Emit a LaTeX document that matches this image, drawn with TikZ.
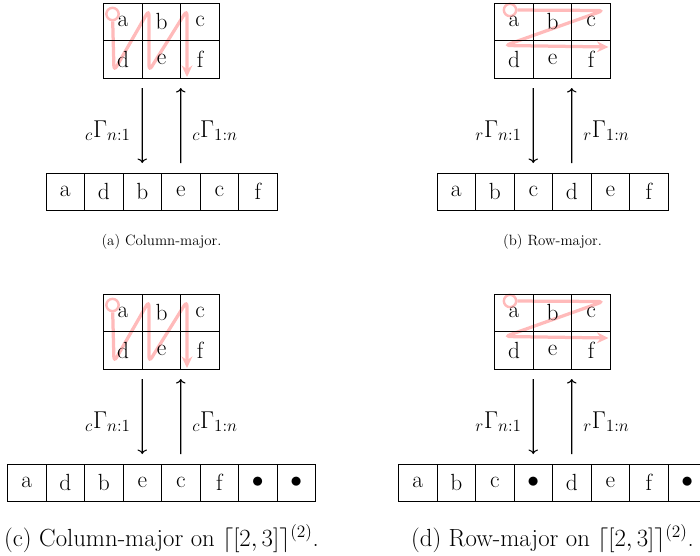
\RequirePackage{fix-cm}
\documentclass[tikz,border=0pt]{standalone}
\usetikzlibrary{arrows.meta,calc}
\begin{document}
\begin{tikzpicture}[x=0.025974cm,y=-0.025974cm,
  cell/.style={draw, line width=0.6pt, minimum width=1cm, minimum height=0.974cm, inner sep=0pt, outer sep=0pt, font=\fontsize{17.28}{20}\selectfont},
  pinktrace/.style={draw=red!27, line width=2.4pt, rounded corners=4pt, -{Stealth[length=3mm,width=2.8mm,inset=1mm]}},
  pinkring/.style={circle, draw=red!27, line width=1.8pt, minimum size=0.32cm, inner sep=0pt},
  maparrow/.style={->, line width=0.8pt},
  lbltext/.style={inner sep=0pt, font=\fontsize{18}{21}\selectfont},
  captext/.style={anchor=base, inner sep=0pt, font=\fontsize{11}{13}\selectfont},
  bigcaptext/.style={anchor=base, inner sep=0pt, font=\fontsize{18.3}{21}\selectfont}]
\useasboundingbox (0,0) rectangle (700,555);
\clip (0,0) rectangle (700,555);

% ---------- (a) column-major ----------
\begin{scope}[shift={(161.5,3)}]
  \node[pinkring] (aring) at (-49,11) {};
  \draw[pinktrace] (aring) -- (-47.5,68) -- (-12.5,7) -- (-12.5,68) -- (25.5,7) -- (25.5,74);
  \node[cell] (ag1) at (-38.5,18.75) {a};
  \node[cell] (ag2) at (0,18.75) {b};
  \node[cell] (ag3) at (38.5,18.75) {c};
  \node[cell] (ag4) at (-38.5,56.25) {d};
  \node[cell] (ag5) at (0,56.25) {e};
  \node[cell] (ag6) at (38.5,56.25) {f};
  \node[cell] (ar1) at (-96.25,188.75) {a};
  \node[cell] (ar2) at (-57.75,188.75) {d};
  \node[cell] (ar3) at (-19.25,188.75) {b};
  \node[cell] (ar4) at (19.25,188.75) {e};
  \node[cell] (ar5) at (57.75,188.75) {c};
  \node[cell] (ar6) at (96.25,188.75) {f};
  \draw[maparrow] ($(ag4.south east)+(0,10)$) -- ($(ar3.north)+(0,-10)$);
  \draw[maparrow] ($(ar4.north)+(0,-10)$) -- ($(ag5.south east)+(0,10)$);
  \node[lbltext, anchor=base east] (al1) at (-30.5,134) {${}_c\Gamma_{n:1}$};
  \node[lbltext, anchor=base west] (al2) at (30.5,134) {${}_c\Gamma_{1:n}$};
  \node[captext] (acap) at (0,242) {(a) Column-major.};
\end{scope}

% ---------- (b) row-major ----------
\begin{scope}[shift={(552.5,3)}]
  \node[pinkring] (bring) at (-42.5,7) {};
  \draw[pinktrace] (bring) -- (51,7.5) -- (-47.5,42.5) -- (56,44);
  \node[cell] (bg1) at (-38.5,18.75) {a};
  \node[cell] (bg2) at (0,18.75) {b};
  \node[cell] (bg3) at (38.5,18.75) {c};
  \node[cell] (bg4) at (-38.5,56.25) {d};
  \node[cell] (bg5) at (0,56.25) {e};
  \node[cell] (bg6) at (38.5,56.25) {f};
  \node[cell] (br1) at (-96.25,188.75) {a};
  \node[cell] (br2) at (-57.75,188.75) {b};
  \node[cell] (br3) at (-19.25,188.75) {c};
  \node[cell] (br4) at (19.25,188.75) {d};
  \node[cell] (br5) at (57.75,188.75) {e};
  \node[cell] (br6) at (96.25,188.75) {f};
  \draw[maparrow] ($(bg4.south east)+(0,10)$) -- ($(br3.north)+(0,-10)$);
  \draw[maparrow] ($(br4.north)+(0,-10)$) -- ($(bg5.south east)+(0,10)$);
  \node[lbltext, anchor=base east] (bl1) at (-30.5,134) {${}_r\Gamma_{n:1}$};
  \node[lbltext, anchor=base west] (bl2) at (30.5,134) {${}_r\Gamma_{1:n}$};
  \node[captext] (bcap) at (0,242) {(b) Row-major.};
\end{scope}

% ---------- (c) column-major on padded ----------
\begin{scope}[shift={(161.5,294)}]
  \node[pinkring] (cring) at (-49,11) {};
  \draw[pinktrace] (cring) -- (-47.5,68) -- (-12.5,7) -- (-12.5,68) -- (25.5,7) -- (25.5,74);
  \node[cell] (cg1) at (-38.5,18.75) {a};
  \node[cell] (cg2) at (0,18.75) {b};
  \node[cell] (cg3) at (38.5,18.75) {c};
  \node[cell] (cg4) at (-38.5,56.25) {d};
  \node[cell] (cg5) at (0,56.25) {e};
  \node[cell] (cg6) at (38.5,56.25) {f};
  \node[cell] (cr1) at (-134.75,188.75) {a};
  \node[cell] (cr2) at (-96.25,188.75) {d};
  \node[cell] (cr3) at (-57.75,188.75) {b};
  \node[cell] (cr4) at (-19.25,188.75) {e};
  \node[cell] (cr5) at (19.25,188.75) {c};
  \node[cell] (cr6) at (57.75,188.75) {f};
  \node[cell] (cr7) at (96.25,188.75) {$\bullet$};
  \node[cell] (cr8) at (134.75,188.75) {$\bullet$};
  \draw[maparrow] ($(cg4.south east)+(0,10)$) -- ($(cr4.north)+(0,-10)$);
  \draw[maparrow] ($(cr5.north)+(0,-10)$) -- ($(cg5.south east)+(0,10)$);
  \node[lbltext, anchor=base east] (cl1) at (-30.5,134) {${}_c\Gamma_{n:1}$};
  \node[lbltext, anchor=base west] (cl2) at (30.5,134) {${}_c\Gamma_{1:n}$};
  \node[bigcaptext] (ccap) at (0,252) {(c) Column-major on $\lceil[2,3]\rceil^{(2)}$.};
\end{scope}

% ---------- (d) row-major on padded ----------
\begin{scope}[shift={(552.5,294)}]
  \node[pinkring] (dring) at (-42.5,7) {};
  \draw[pinktrace] (dring) -- (51,7.5) -- (-47.5,42.5) -- (56,44);
  \node[cell] (dg1) at (-38.5,18.75) {a};
  \node[cell] (dg2) at (0,18.75) {b};
  \node[cell] (dg3) at (38.5,18.75) {c};
  \node[cell] (dg4) at (-38.5,56.25) {d};
  \node[cell] (dg5) at (0,56.25) {e};
  \node[cell] (dg6) at (38.5,56.25) {f};
  \node[cell] (dr1) at (-134.75,188.75) {a};
  \node[cell] (dr2) at (-96.25,188.75) {b};
  \node[cell] (dr3) at (-57.75,188.75) {c};
  \node[cell] (dr4) at (-19.25,188.75) {$\bullet$};
  \node[cell] (dr5) at (19.25,188.75) {d};
  \node[cell] (dr6) at (57.75,188.75) {e};
  \node[cell] (dr7) at (96.25,188.75) {f};
  \node[cell] (dr8) at (134.75,188.75) {$\bullet$};
  \draw[maparrow] ($(dg4.south east)+(0,10)$) -- ($(dr4.north)+(0,-10)$);
  \draw[maparrow] ($(dr5.north)+(0,-10)$) -- ($(dg5.south east)+(0,10)$);
  \node[lbltext, anchor=base east] (dl1) at (-30.5,134) {${}_r\Gamma_{n:1}$};
  \node[lbltext, anchor=base west] (dl2) at (30.5,134) {${}_r\Gamma_{1:n}$};
  \node[bigcaptext] (dcap) at (0,252) {(d) Row-major on $\lceil[2,3]\rceil^{(2)}$.};
\end{scope}
\end{tikzpicture}
\end{document}
